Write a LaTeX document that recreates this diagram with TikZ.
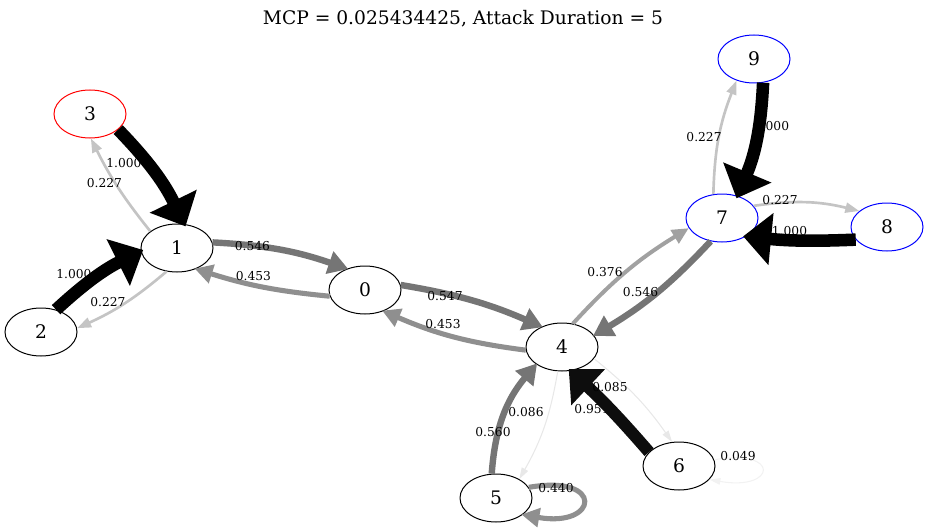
\documentclass[tikz,border=0pt]{standalone}
\usepackage{fontspec}
\setmainfont{DejaVu Serif}
\usetikzlibrary{arrows.meta,shapes.geometric}

\tikzset{
  vtx/.style={ellipse, draw, line width=0.75pt, minimum width=54pt, minimum height=36pt,
              inner sep=0pt, font=\fontsize{14}{16}\selectfont},
  lbl/.style={font=\fontsize{9.2}{11}\selectfont, inner sep=0pt},
  ttl/.style={font=\fontsize{14}{16}\selectfont, inner sep=0pt},
  % edge looks, graded by transition probability
  wA/.style={draw=black,    line width=9.4pt, shorten >=-2pt, -{Triangle[length=21pt,width=38pt]}},
  wB/.style={draw=black!95, line width=9pt,   shorten >=-2pt, -{Triangle[length=20pt,width=36pt]}},
  wC/.style={draw=black!54, line width=4.8pt, shorten >=-1pt, -{Triangle[length=15pt,width=17pt]}},
  wD/.style={draw=black!44, line width=3.8pt, shorten >=-1pt, -{Triangle[length=13.5pt,width=14pt]}},
  wE/.style={draw=black!37, line width=3pt,   -{Triangle[length=12.5pt,width=11.3pt]}},
  wF/.style={draw=black!23, line width=2pt,   -{Triangle[length=10.5pt,width=7.5pt]}},
  wG/.style={draw=black!9,  line width=0.8pt, -{Triangle[length=8.6pt,width=5.3pt]}},
  wH/.style={draw=black!5,  line width=0.8pt, -{Triangle[length=8.2pt,width=4.9pt]}},
}

\begin{document}
\begin{tikzpicture}[x=0.75pt,y=0.75pt]
\useasboundingbox (0,0) rectangle (928,-528);

\node[ttl] (title) at (463,-19) {MCP = 0.025434425, Attack Duration = 5};

% states
\node[vtx]           (n0) at (365,-290) {0};
\node[vtx]           (n1) at (177,-248) {1};
\node[vtx]           (n2) at (41,-332)  {2};
\node[vtx,draw=red]  (n3) at (90,-114)  {3};
\node[vtx]           (n4) at (562,-347) {4};
\node[vtx]           (n5) at (496,-498) {5};
\node[vtx]           (n6) at (679,-466) {6};
\node[vtx,draw=blue] (n7) at (722,-218) {7};
\node[vtx,draw=blue] (n8) at (887,-227) {8};
\node[vtx,draw=blue] (n9) at (754,-59)  {9};

% labels lying under heavier edges
\node[lbl] (l31) at (124,-163)   {1.000};
\node[lbl] (l21) at (74,-274)    {1.000};
\node[lbl] (l97) at (771.5,-126) {1.000};
\node[lbl] (l87) at (789.5,-231) {1.000};
\node[lbl] (l64) at (592,-409)   {0.951};
\node[lbl] (l45) at (526,-412)   {0.086};

% transitions
\draw[wF] (n1.148)  to[bend left=6]  (n3.-88);
\draw[wF] (n1.-114) to[bend left=8]  (n2.6);
\draw[wG] (n4.-100) to[bend left=10] (n5.39);
\draw[wG] (n4.-20)  to[bend left=8]  (n6.106);
\draw[wH] (n6.10)   to[out=10,in=-10,distance=51pt] (n6.-24);
\draw[wF] (n7.110)  to[bend left=10] (n9.-129);
\draw[wF] (n7.21)   to[bend left=11] (n8.150);
\draw[wE] (n4.65)   to[bend left=8]  (n7.197);
\draw[wD] (n0.190)  to[bend left=6]  (n1.-48);
\draw[wD] (n4.185)  to[bend left=8]  (n0.-49);
\draw[wD] (n5.18)   to[out=10,in=-10,distance=58pt] (n5.-32);
\draw[wC] (n1.9)    to[bend left=8]  (n0.130);
\draw[wC] (n0.8)    to[bend left=7]  (n4.135);
\draw[wC] (n7.-116) to[bend left=8]  (n4.20);
\draw[wC] (n5.100)  to[bend left=18] (n4.214);
\draw[wB] (n6.155)  to[bend right=3] (n4.-70);
\draw[wA] (n3.-29)  to[bend left=9]  (n1.73);
\draw[wA] (n2.56)   to[bend left=8]  (n1.185);
\draw[wA] (n9.-69)  to[bend left=10] (n7.55);
\draw[wA] (n8.202)  to[bend left=4]  (n7.-38);

% remaining labels
\node[lbl] (l13) at (104.5,-183) {0.227};
\node[lbl] (l12) at (108,-302)   {0.227};
\node[lbl] (l10) at (252.5,-246) {0.546};
\node[lbl] (l01) at (253.5,-276) {0.453};
\node[lbl] (l04) at (445,-296)   {0.547};
\node[lbl] (l40) at (443,-324)   {0.453};
\node[lbl] (l47) at (605,-272)   {0.376};
\node[lbl] (l74) at (640.5,-292) {0.546};
\node[lbl] (l54) at (493,-432)   {0.560};
\node[lbl] (l46) at (610,-387)   {0.085};
\node[lbl] (l55) at (556,-488)   {0.440};
\node[lbl] (l66) at (738,-456)   {0.049};
\node[lbl] (l79) at (704,-137)   {0.227};
\node[lbl] (l78) at (780,-200)   {0.227};
\end{tikzpicture}
\end{document}
